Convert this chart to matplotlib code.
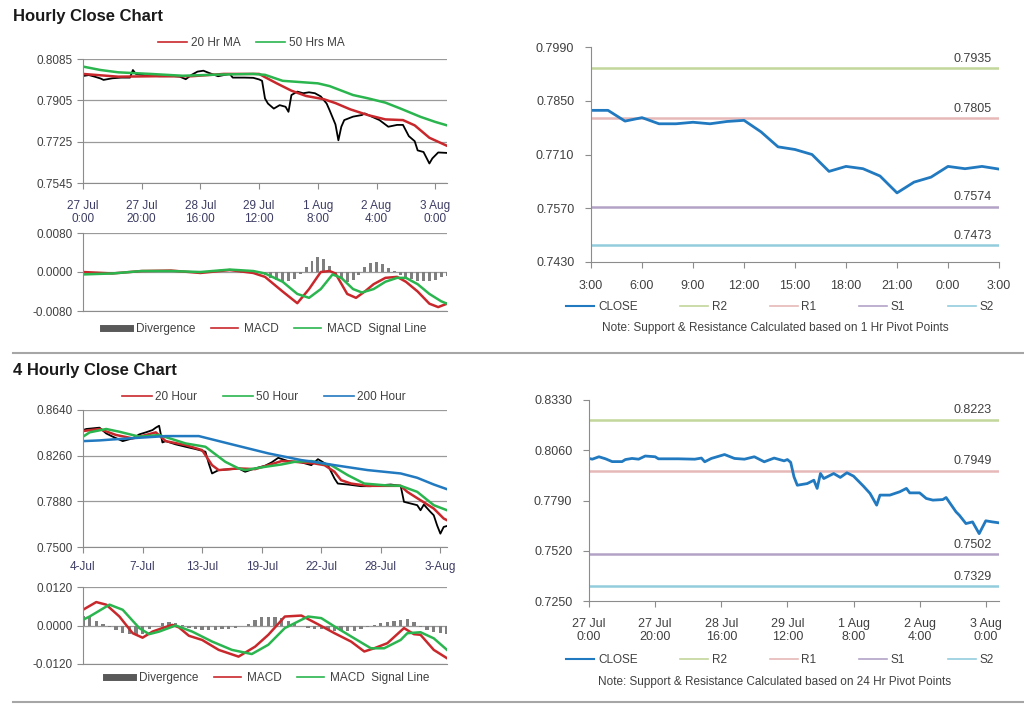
import matplotlib
matplotlib.use('Agg')
import matplotlib.pyplot as plt
from matplotlib.lines import Line2D

plt.rcParams['font.family'] = ['Liberation Sans', 'DejaVu Sans']

W, H = 1024, 706

# ---------------- data: hourly chart (top-left) ----------------
h_labels = ['27 Jul\n0:00', '27 Jul\n20:00', '28 Jul\n16:00', '29 Jul\n12:00',
            '1 Aug\n8:00', '2 Aug\n4:00', '3 Aug\n0:00']
h_close_x = [0, 2, 4, 6, 7, 10, 13, 16, 17, 18, 22, 26, 31, 33, 35, 37, 39, 41, 43, 46,
             50, 51, 55, 58, 60, 61, 62, 63, 65, 67, 69, 70, 71, 73, 75, 77, 79, 81, 83,
             84, 86, 87, 88, 89, 92, 95, 96, 98, 101, 104, 107, 109, 111, 113, 114, 116,
             118, 119, 121, 124]
h_close = [0.8011, 0.8015, 0.8008, 0.8000, 0.7994, 0.8001, 0.8004, 0.8004, 0.8037, 0.8020,
           0.8012, 0.8010, 0.8010, 0.8008, 0.7997, 0.8016, 0.8030, 0.8034, 0.8024, 0.8010,
           0.8020, 0.8004, 0.8004, 0.8003, 0.7996, 0.7990, 0.7913, 0.7891, 0.7869, 0.7884,
           0.7877, 0.7855, 0.7928, 0.7943, 0.7936, 0.7940, 0.7936, 0.7922, 0.7891, 0.7862,
           0.7800, 0.7731, 0.7790, 0.7819, 0.7834, 0.7841, 0.7848, 0.7836, 0.7819, 0.7790,
           0.7798, 0.7798, 0.7749, 0.7727, 0.7687, 0.7680, 0.7630, 0.7652, 0.7678, 0.7676]
h_ma20_x = [0, 12, 25, 37, 48, 60, 62, 66, 71, 76, 82, 86, 91, 97, 103, 109, 113, 118, 124]
h_ma20 = [0.8020, 0.8008, 0.8010, 0.8010, 0.8020, 0.8020, 0.8006, 0.7979, 0.7947, 0.7924,
          0.7910, 0.7893, 0.7866, 0.7841, 0.7822, 0.7819, 0.7796, 0.7742, 0.7707]
h_ma50_x = [0, 6, 12, 23, 34, 46, 58, 62, 68, 80, 84, 92, 97, 103, 108, 115, 120, 124]
h_ma50 = [0.8052, 0.8037, 0.8027, 0.8020, 0.8012, 0.8017, 0.8020, 0.8016, 0.7990, 0.7979,
          0.7967, 0.7928, 0.7914, 0.7895, 0.7870, 0.7833, 0.7811, 0.7796]

h_macd_x = [0, 10, 20, 30, 40, 50, 58, 62, 68, 73, 77, 81, 84, 86, 90, 93, 96, 99, 103,
            107, 110, 114, 118, 121, 124]
h_macd = [0.0000, -0.0003, 0.0002, 0.0003, -0.0002, 0.0004, -0.0002, -0.0010, -0.0040,
          -0.0064, -0.0035, 0.0000, 0.0002, -0.0003, -0.0045, -0.0053, -0.0040, -0.0025,
          -0.0012, -0.0010, -0.0020, -0.0040, -0.0065, -0.0072, -0.0065]
h_signal_x = [0, 10, 20, 30, 40, 50, 58, 62, 68, 73, 77, 81, 85, 88, 92, 95, 99, 103, 107,
              110, 114, 118, 122, 124]
h_signal = [-0.0005, -0.0003, 0.0002, 0.0002, 0.0000, 0.0005, 0.0002, -0.0003, -0.0020,
            -0.0045, -0.0053, -0.0035, -0.0005, -0.0012, -0.0035, -0.0042, -0.0035, -0.0020,
            -0.0012, -0.0012, -0.0025, -0.0045, -0.0060, -0.0065]
h_div_x = list(range(0, 125, 2))
h_div = [-0.0003, -0.0003, -0.0002, -0.0002, -0.0001, -0.0001, -0.0001, -0.0001, 0.0001,
         0.0002, 0.0002, 0.0001, 0.0001, 0.0001, 0.0001, 0.0001, 0.0000, -0.0001, -0.0001,
         0.0001, 0.0001, 0.0002, 0.0002, 0.0001, 0.0000, -0.0001, -0.0001, -0.0002, -0.0001,
         -0.0002, -0.0003, -0.0006, -0.0012, -0.0016, -0.0019, -0.0018, -0.0015, -0.0004,
         0.0010, 0.0022, 0.0030, 0.0026, 0.0012, -0.0005, -0.0015, -0.0020, -0.0016, -0.0006,
         0.0010, 0.0018, 0.0021, 0.0017, 0.0008, 0.0002, -0.0006, -0.0010, -0.0014, -0.0018,
         -0.0019, -0.0019, -0.0016, -0.0010, -0.0008]

# ---------------- data: 1 hr pivot chart (top-right) ----------------
p1_labels = ['3:00', '6:00', '9:00', '12:00', '15:00', '18:00', '21:00', '0:00', '3:00']
p1_close = [0.7825, 0.7825, 0.7797, 0.7806, 0.7790, 0.7790, 0.7794, 0.7790, 0.7796, 0.7799,
            0.7769, 0.7730, 0.7723, 0.7710, 0.7666, 0.7679, 0.7673, 0.7654, 0.7610, 0.7638,
            0.7651, 0.7679, 0.7673, 0.7679, 0.7672]
p1_levels = [0.7935, 0.7805, 0.7574, 0.7473]  # R2, R1, S1, S2

# ---------------- data: 4 hourly chart (bottom-left) ----------------
f_labels = ['4-Jul', '7-Jul', '13-Jul', '19-Jul', '22-Jul', '28-Jul', '3-Aug']
f_close_x = [0, 1, 5, 7, 9, 12, 15, 17, 19, 21, 22, 23, 24, 25, 28, 31, 34, 37, 38, 39, 41,
             45, 47, 49, 52, 55, 57, 59, 62, 66, 69, 71, 74, 76, 77, 80, 84, 87, 90, 93, 96,
             97, 99, 101, 102, 103, 105, 106, 107, 108, 109, 110]
f_close = [0.8473, 0.8482, 0.8493, 0.8445, 0.8418, 0.8381, 0.8404, 0.8437, 0.8454, 0.8473,
           0.8493, 0.8509, 0.8370, 0.8381, 0.8354, 0.8334, 0.8315, 0.8293, 0.8195, 0.8112,
           0.8140, 0.8148, 0.8154, 0.8126, 0.8154, 0.8176, 0.8204, 0.8242, 0.8215, 0.8204,
           0.8181, 0.8231, 0.8181, 0.8070, 0.8028, 0.8020, 0.8006, 0.8006, 0.8014, 0.8020,
           0.8009, 0.7876, 0.7862, 0.7848, 0.7806, 0.7853, 0.7792, 0.7764, 0.7681, 0.7611,
           0.7667, 0.7675]
f_ma20_x = [0, 5, 10, 15, 19, 22, 25, 31, 36, 39, 41, 47, 52, 56, 60, 64, 70, 73, 76, 78,
            81, 86, 96, 98, 102, 106, 109, 110]
f_ma20 = [0.8465, 0.8482, 0.8432, 0.8404, 0.8432, 0.8454, 0.8381, 0.8348, 0.8306, 0.8181,
          0.8140, 0.8154, 0.8148, 0.8181, 0.8215, 0.8209, 0.8195, 0.8181, 0.8126, 0.8056,
          0.8028, 0.8009, 0.8009, 0.7959, 0.7889, 0.7820, 0.7737, 0.7723]
f_ma50_x = [0, 2, 7, 11, 17, 23, 31, 37, 43, 47, 49, 55, 60, 64, 69, 75, 80, 85, 91, 96,
            101, 106, 110]
f_ma50 = [0.8418, 0.8454, 0.8482, 0.8459, 0.8418, 0.8432, 0.8362, 0.8334, 0.8209, 0.8154,
          0.8140, 0.8167, 0.8187, 0.8209, 0.8215, 0.8181, 0.8098, 0.8028, 0.8014, 0.8009,
          0.7959, 0.7848, 0.7806]
f_ma200_x = [0, 5, 9, 25, 35, 45, 56, 66, 71, 76, 86, 96, 101, 106, 110]
f_ma200 = [0.8381, 0.8387, 0.8395, 0.8423, 0.8423, 0.8354, 0.8279, 0.8223, 0.8204, 0.8181,
           0.8140, 0.8112, 0.8076, 0.8020, 0.7981]

f_macd_x = [0, 4, 7, 11, 15, 18, 21, 24, 27, 29, 32, 36, 41, 47, 52, 56, 61, 66, 71, 76, 81,
            85, 88, 92, 97, 100, 102, 106, 110]
f_macd = [0.0049, 0.0073, 0.0065, 0.0028, -0.0024, -0.0038, -0.0019, -0.0008, 0.0002,
          -0.0006, -0.0032, -0.0045, -0.0076, -0.0097, -0.0066, -0.0029, 0.0028, 0.0031,
          0.0004, -0.0024, -0.0050, -0.0081, -0.0071, -0.0055, -0.0008, -0.0027, -0.0029,
          -0.0076, -0.0102]
f_signal_x = [0, 2, 8, 12, 17, 20, 23, 28, 33, 39, 45, 51, 56, 61, 68, 72, 76, 81, 87, 91,
              96, 98, 102, 106, 110]
f_signal = [0.0018, 0.0028, 0.0065, 0.0049, -0.0008, -0.0027, -0.0019, 0.0000, -0.0019,
            -0.0050, -0.0076, -0.0089, -0.0060, -0.0008, 0.0028, 0.0023, -0.0003, -0.0034,
            -0.0071, -0.0071, -0.0045, -0.0024, -0.0021, -0.0040, -0.0076]
f_div_x = list(range(0, 111, 2))
f_div = [0.0030, 0.0025, 0.0015, 0.0005, -0.0005, -0.0015, -0.0022, -0.0028, -0.0030,
         -0.0025, -0.0012, 0.0000, 0.0008, 0.0010, 0.0008, 0.0002, -0.0008, -0.0012, -0.0014,
         -0.0015, -0.0015, -0.0012, -0.0010, -0.0008, -0.0003, 0.0005, 0.0018, 0.0025,
         0.0028, 0.0027, 0.0024, 0.0014, 0.0006, -0.0002, -0.0008, -0.0010, -0.0012, -0.0015,
         -0.0018, -0.0018, -0.0018, -0.0017, -0.0012, -0.0006, 0.0002, 0.0008, 0.0012,
         0.0015, 0.0018, 0.0020, 0.0010, -0.0005, -0.0015, -0.0020, -0.0024, -0.0025]

# ---------------- data: 24 hr pivot chart (bottom-right) ----------------
p24_close_x = [0, 1, 3, 5, 7, 10, 11, 13, 15, 17, 20, 21, 27, 32, 34, 35, 37, 41, 44, 47, 50,
               53, 56, 59, 60, 61, 62, 63, 66, 68, 69, 70, 71, 74, 76, 78, 80, 83, 85, 87,
               88, 91, 94, 96, 97, 100, 102, 104, 107, 108, 111, 112, 114, 116, 118, 120,
               122, 124]
p24_close = [0.8016, 0.8012, 0.8025, 0.8014, 0.7999, 0.7999, 0.8010, 0.8016, 0.8012, 0.8029,
             0.8025, 0.8014, 0.8014, 0.8012, 0.8018, 0.7998, 0.8016, 0.8037, 0.8016, 0.8012,
             0.8025, 0.7998, 0.8018, 0.8003, 0.8010, 0.7995, 0.7917, 0.7872, 0.7881, 0.7899,
             0.7855, 0.7935, 0.7908, 0.7935, 0.7914, 0.7939, 0.7921, 0.7867, 0.7828, 0.7765,
             0.7819, 0.7819, 0.7837, 0.7855, 0.7831, 0.7831, 0.7801, 0.7792, 0.7795, 0.7806,
             0.7729, 0.7711, 0.7666, 0.7675, 0.7612, 0.7681, 0.7675, 0.7670]
p24_levels = [0.8223, 0.7949, 0.7502, 0.7329]  # R2, R1, S1, S2

level_names = ['R2', 'R1', 'S1', 'S2']
level_colors = ['#c3d69b', '#e6b9b8', '#b3a2c7', '#93cddd']

RED = '#c8282c'
GREEN = '#2bb54f'
BLUE = '#2179c0'
TXT = '#404040'
SPINE = '#8c8c8c'
FS = 8.5

fig = plt.figure(figsize=(W / 100, H / 100), dpi=100)


def px(x0, y0, x1, y1):
    return fig.add_axes([x0 / W, 1 - y1 / H, (x1 - x0) / W, (y1 - y0) / H])


def style_left(ax, yticks):
    ax.set_yticks(yticks)
    ax.set_ylim(yticks[-1], yticks[0])
    ax.grid(axis='y', color='#9a9a9a', lw=0.9)
    ax.set_axisbelow(True)
    for s in ['top', 'right']:
        ax.spines[s].set_visible(False)
    for s in ['left', 'bottom']:
        ax.spines[s].set_color(SPINE)
    ax.tick_params(colors=SPINE, labelcolor=TXT, labelsize=FS, length=4, width=0.8)


def legend(handles, labels, x, y, **kw):
    fig.legend(handles, labels, loc='center', bbox_to_anchor=(x / W, 1 - y / H),
               ncol=len(handles), frameon=False, fontsize=FS,
               labelcolor=TXT, **kw)


# ---------------- top-left: hourly close ----------------
ax = px(83, 59, 447, 183)
ax.plot(h_close_x, h_close, color='black', lw=1.3)
ax.plot(h_ma20_x, h_ma20, color=RED, lw=1.8)
ax.plot(h_ma50_x, h_ma50, color=GREEN, lw=1.8)
style_left(ax, [0.8085, 0.7905, 0.7725, 0.7545])
ax.set_yticklabels(['0.8085', '0.7905', '0.7725', '0.7545'])
ax.set_xlim(0, 124)
ax.set_xticks(range(0, 121, 20))
ax.set_xticklabels(h_labels, color='#3c3c64')
ax.tick_params(axis='x', pad=8)
legend([Line2D([], [], color=RED, lw=1.2), Line2D([], [], color=GREEN, lw=1.2)],
       ['20 Hr MA', '50 Hrs MA'], 251, 43, handlelength=2.5, columnspacing=1.3,
       handletextpad=0.3)

ax = px(83, 233, 447, 311)
ax.bar(h_div_x, h_div, width=1.0, color='#7f7f7f')
ax.plot(h_macd_x, h_macd, color=RED, lw=1.8)
ax.plot(h_signal_x, h_signal, color=GREEN, lw=1.8)
style_left(ax, [0.008, 0.0, -0.008])
ax.set_yticklabels(['0.0080', '0.0000', '-0.0080'])
ax.set_xlim(0, 124)
ax.set_xticks([])
legend([Line2D([], [], color='#595959', lw=5), Line2D([], [], color=RED, lw=1.2),
        Line2D([], [], color=GREEN, lw=1.2)],
       ['Divergence', 'MACD', 'MACD  Signal Line'], 265, 329, handlelength=2.3,
       columnspacing=1.3, handletextpad=0.5)

# ---------------- bottom-left: 4 hourly close ----------------
ax = px(83, 410, 447, 547)
ax.plot(f_close_x, f_close, color='black', lw=1.3)
ax.plot(f_ma20_x, f_ma20, color=RED, lw=1.8)
ax.plot(f_ma50_x, f_ma50, color=GREEN, lw=1.8)
ax.plot(f_ma200_x, f_ma200, color=BLUE, lw=1.8)
style_left(ax, [0.8640, 0.8260, 0.7880, 0.7500])
ax.set_yticklabels(['0.8640', '0.8260', '0.7880', '0.7500'])
ax.set_xlim(0, 110)
ax.set_xticks(range(0, 109, 18))
ax.set_xticklabels(f_labels, color='#3c3c64')
ax.tick_params(axis='x', pad=6)
legend([Line2D([], [], color=RED, lw=1.2), Line2D([], [], color=GREEN, lw=1.2),
        Line2D([], [], color=BLUE, lw=1.2)],
       ['20 Hour', '50 Hour', '200 Hour'], 264, 397, handlelength=2.5, columnspacing=2.2,
       handletextpad=0.3)

ax = px(83, 587, 447, 664)
ax.bar(f_div_x, f_div, width=1.0, color='#7f7f7f')
ax.plot(f_macd_x, f_macd, color=RED, lw=1.8)
ax.plot(f_signal_x, f_signal, color=GREEN, lw=1.8)
style_left(ax, [0.012, 0.0, -0.012])
ax.set_yticklabels(['0.0120', '0.0000', '-0.0120'])
ax.set_xlim(0, 110)
ax.set_xticks([])
legend([Line2D([], [], color='#595959', lw=5), Line2D([], [], color=RED, lw=1.2),
        Line2D([], [], color=GREEN, lw=1.2)],
       ['Divergence', 'MACD', 'MACD  Signal Line'], 268, 678, handlelength=2.3,
       columnspacing=1.3, handletextpad=0.5)


# ---------------- right: pivot charts ----------------
def pivot(ax, xs, close, levels, yticks, xlim, xticks, xlabels, xpad, ly, note, ny):
    for lv, c in zip(levels, level_colors):
        ax.axhline(lv, color=c, lw=1.8)
        ax.annotate(f'{lv:.4f}', xy=(1, lv), xycoords=('axes fraction', 'data'),
                    xytext=(-5, 2.5), textcoords='offset points', ha='right', va='bottom',
                    fontsize=FS + 0.5, color=TXT)
    ax.plot(xs, close, color=BLUE, lw=2.0)
    ax.set_ylim(yticks[-1], yticks[0])
    ax.set_yticks(yticks)
    ax.set_yticklabels([f'{t:.4f}' for t in yticks])
    ax.set_xlim(*xlim)
    ax.set_xticks(xticks)
    ax.set_xticklabels(xlabels)
    for s in ['top', 'right']:
        ax.spines[s].set_visible(False)
    for s in ['left', 'bottom']:
        ax.spines[s].set_color(SPINE)
    ax.tick_params(colors=SPINE, labelcolor=TXT, labelsize=FS + 0.5, length=4, width=0.8)
    ax.tick_params(axis='x', pad=xpad)
    ax.tick_params(axis='y', pad=8)
    handles = [Line2D([], [], color=BLUE, lw=1.5)] + \
              [Line2D([], [], color=c, lw=1.2) for c in level_colors]
    legend(handles, ['CLOSE'] + level_names, 780, ly, handlelength=2.4, columnspacing=3.6,
           handletextpad=0.3)
    fig.text(775 / W, 1 - ny / H, note, ha='center', va='center', fontsize=FS, color=TXT)


ax = px(591, 47, 999, 262)
pivot(ax, list(range(len(p1_close))), p1_close, p1_levels,
      [0.7990, 0.7850, 0.7710, 0.7570, 0.7430], (0, 24), range(0, 25, 3), p1_labels, 9,
      307, 'Note: Support & Resistance Calculated based on 1 Hr Pivot Points', 328)

ax = px(589, 400, 999, 601)
pivot(ax, p24_close_x, p24_close, p24_levels,
      [0.8330, 0.8060, 0.7790, 0.7520, 0.7250], (0, 124), range(0, 121, 20), h_labels, 8,
      660, 'Note: Support & Resistance Calculated based on 24 Hr Pivot Points', 682)

# ---------------- titles and separators ----------------
fig.text(13 / W, 1 - 16 / H, 'Hourly Close Chart', fontsize=12, fontweight='bold',
         va='center', color='#1a1a1a')
fig.text(13 / W, 1 - 370 / H, '4 Hourly Close Chart', fontsize=12, fontweight='bold',
         va='center', color='#1a1a1a')
fig.add_artist(Line2D([13 / W, 1], [1 - 353 / H] * 2, color='#a6a6a6', lw=1.5))
fig.add_artist(Line2D([13 / W, 1], [1 - 702 / H] * 2, color='#a6a6a6', lw=1.5))

fig.savefig('out.png', dpi=100, facecolor='white')
